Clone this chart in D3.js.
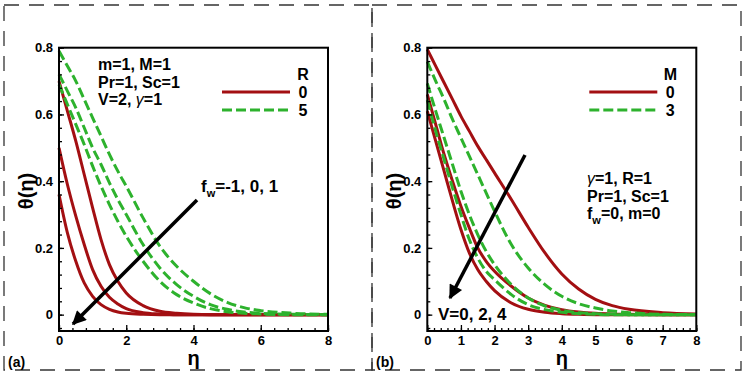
<!DOCTYPE html>
<html>
<head>
<meta charset="utf-8">
<script src="https://cdn.jsdelivr.net/npm/d3@7"></script>
<style>
  body { margin: 0; background: #fff; }
  svg { display: block; }
  text { font-family: "Liberation Sans", Arial, sans-serif; font-weight: bold; }
</style>
</head>
<body>
<svg id="chart" width="745" height="377"></svg>
<script>
// shared eta grid for every curve
const eta = [0, 0.25, 0.5, 0.75, 1, 1.25, 1.5, 1.75, 2, 2.5, 3, 3.5, 4, 4.5, 5, 5.5, 6, 7, 8];

// panel (a): f_w = -1, 0, 1 for R = 0 (red) and R = 5 (green)
const aRed = [
  [0.70, 0.61, 0.52, 0.42, 0.32, 0.225, 0.15, 0.10, 0.065, 0.027, 0.01, 0.004, 0.001, 0, 0, 0, 0, 0, 0],
  [0.50, 0.39, 0.295, 0.21, 0.135, 0.085, 0.052, 0.032, 0.018, 0.006, 0.002, 0, 0, 0, 0, 0, 0, 0, 0],
  [0.36, 0.245, 0.16, 0.095, 0.055, 0.03, 0.016, 0.008, 0.004, 0.001, 0, 0, 0, 0, 0, 0, 0, 0, 0]
];
const aGreen = [
  [0.79, 0.745, 0.70, 0.645, 0.59, 0.535, 0.48, 0.43, 0.385, 0.29, 0.205, 0.145, 0.10, 0.063, 0.037, 0.021, 0.012, 0.004, 0.001],
  [0.72, 0.67, 0.62, 0.56, 0.50, 0.45, 0.395, 0.345, 0.30, 0.21, 0.14, 0.09, 0.055, 0.03, 0.016, 0.008, 0.004, 0.001, 0],
  [0.69, 0.63, 0.57, 0.51, 0.445, 0.385, 0.33, 0.28, 0.235, 0.16, 0.10, 0.06, 0.035, 0.018, 0.009, 0.004, 0.002, 0, 0]
];

// panel (b): V = 0, 2, 4 for M = 0 (red) and M = 3 (green)
const bRed = [
  [0.795, 0.745, 0.695, 0.645, 0.595, 0.55, 0.505, 0.465, 0.425, 0.345, 0.262, 0.185, 0.122, 0.077, 0.046, 0.027, 0.016, 0.006, 0.002],
  [0.66, 0.57, 0.48, 0.40, 0.325, 0.26, 0.20, 0.16, 0.13, 0.085, 0.05, 0.028, 0.015, 0.008, 0.004, 0.002, 0.001, 0, 0],
  [0.61, 0.52, 0.43, 0.34, 0.255, 0.185, 0.135, 0.10, 0.072, 0.035, 0.016, 0.007, 0.003, 0.001, 0, 0, 0, 0, 0]
];
const bGreen = [
  [0.758, 0.70, 0.645, 0.585, 0.53, 0.475, 0.42, 0.365, 0.31, 0.21, 0.14, 0.09, 0.055, 0.033, 0.02, 0.011, 0.006, 0.001, 0],
  [0.693, 0.61, 0.53, 0.45, 0.37, 0.30, 0.24, 0.19, 0.15, 0.09, 0.05, 0.026, 0.013, 0.006, 0.003, 0.001, 0, 0, 0],
  [0.643, 0.55, 0.465, 0.38, 0.30, 0.225, 0.17, 0.13, 0.105, 0.06, 0.03, 0.015, 0.007, 0.003, 0.001, 0, 0, 0, 0]
];

const yTicks = [0, 0.2, 0.4, 0.6, 0.8];
const aXTicks = [0, 2, 4, 6, 8];
const bXTicks = [0, 1, 2, 3, 4, 5, 6, 7, 8];

const RED = "#a30f12", GREEN = "#2db22d";
const svg = d3.select("#chart");

const defs = svg.append("defs");
defs.append("marker")
  .attr("id", "head")
  .attr("viewBox", "0 0 10 10")
  .attr("refX", 9).attr("refY", 5)
  .attr("markerWidth", 5).attr("markerHeight", 4)
  .attr("markerUnits", "strokeWidth")
  .attr("orient", "auto")
  .append("path").attr("d", "M0,0 L10,5 L0,10 Z").attr("fill", "#000");

// dashed outer frames
[[4, 5, 368, 365], [372, 5, 369, 365]].forEach(([x, y, w, h]) => {
  svg.append("rect").attr("x", x).attr("y", y).attr("width", w).attr("height", h)
    .attr("fill", "none").attr("stroke", "#333").attr("stroke-width", 1.3)
    .attr("stroke-dasharray", "15,10");
});

function addParts(t, parts) {
  parts.forEach(part => {
    const ts = t.append("tspan").text(part.t);
    if (part.sub) ts.attr("font-size", 11).attr("dy", 5);
    if (part.after) ts.attr("dy", -5);
    if (part.g) ts.attr("font-weight", "normal").attr("font-style", "italic");
  });
}

function drawPanel(p) {
  const x = d3.scaleLinear().domain([0, 8]).range([p.left, p.left + 269]);
  const y = d3.scaleLinear().domain([-0.049, 0.8]).range([331, 47.7]);
  const g = svg.append("g");

  // curves
  const line = d3.line().x((d, i) => x(eta[i])).y(d => y(d)).curve(d3.curveMonotoneX);
  p.red.forEach(s => g.append("path").attr("d", line(s)).attr("fill", "none")
    .attr("stroke", RED).attr("stroke-width", 3));
  p.green.forEach(s => g.append("path").attr("d", line(s)).attr("fill", "none")
    .attr("stroke", GREEN).attr("stroke-width", 3).attr("stroke-dasharray", "10,4"));

  // axes with inward ticks
  const minorX = d3.range(0, 8.001, p.minorStep);
  const minorY = d3.range(-0.04, 0.801, 0.04);
  g.append("g").attr("transform", "translate(0,331)")
    .call(d3.axisBottom(x).tickValues(minorX).tickSize(-3).tickFormat(""))
    .call(a => a.select(".domain").remove());
  g.append("g").attr("transform", "translate(0,331)")
    .call(d3.axisBottom(x).tickValues(p.xTicks).tickSize(-6).tickPadding(5).tickFormat(d3.format("d")))
    .call(a => a.select(".domain").remove())
    .selectAll("text").attr("font-size", 13).attr("font-weight", "bold");
  g.append("g").attr("transform", `translate(${p.left},0)`)
    .call(d3.axisLeft(y).tickValues(minorY).tickSize(-3).tickFormat(""))
    .call(a => a.select(".domain").remove());
  g.append("g").attr("transform", `translate(${p.left},0)`)
    .call(d3.axisLeft(y).tickValues(yTicks).tickSize(-5).tickPadding(6).tickFormat(d => d === 0 ? "0" : d3.format(".1f")(d)))
    .call(a => a.select(".domain").remove())
    .selectAll("text").attr("font-size", 13).attr("font-weight", "bold");
  g.selectAll(".tick line").attr("stroke", "#000").attr("stroke-width", 1.3);

  g.append("rect").attr("x", x(0)).attr("y", 47.7).attr("width", x(8) - x(0)).attr("height", 331 - 47.7)
    .attr("fill", "none").attr("stroke", "#000").attr("stroke-width", 2);

  // axis titles
  g.append("text").attr("transform", `translate(${p.left - 26},191) rotate(-90)`)
    .attr("text-anchor", "middle").attr("font-size", 20).attr("font-weight", "normal").text("θ(η)");
  g.append("text").attr("x", (x(0) + x(8)) / 2).attr("y", 365)
    .attr("text-anchor", "middle").attr("font-size", 20).attr("font-weight", "normal").text("η");
  g.append("text").attr("x", p.tagX).attr("y", 367).attr("font-size", 14).text(p.tag);

  // legend
  const lx = p.left + p.legendX;
  g.append("text").attr("x", lx + 81).attr("y", 80).attr("text-anchor", "middle").attr("font-size", 16).text(p.legendTitle);
  p.legendLabels.forEach((lab, i) => {
    const ly = 92 + i * 18;
    g.append("line").attr("x1", lx).attr("x2", lx + 68).attr("y1", ly).attr("y2", ly)
      .attr("stroke", i === 0 ? RED : GREEN).attr("stroke-width", 3)
      .attr("stroke-dasharray", i === 0 ? null : "10,4");
    g.append("text").attr("x", lx + 81).attr("y", ly + 5.5).attr("text-anchor", "middle").attr("font-size", 16).text(lab);
  });

  // parameter block
  p.params.forEach((row, i) => {
    const t = g.append("text").attr("x", p.paramX).attr("y", p.paramY + i * p.paramGap).attr("font-size", 16);
    addParts(t, row);
  });

  // arrow and its label
  g.append("line").attr("x1", p.arrow[0]).attr("y1", p.arrow[1]).attr("x2", p.arrow[2]).attr("y2", p.arrow[3])
    .attr("stroke", "#000").attr("stroke-width", 3.5).attr("marker-end", "url(#head)");
  const t = g.append("text").attr("x", p.arrowLabel[0]).attr("y", p.arrowLabel[1]).attr("font-size", 17);
  addParts(t, p.arrowText);
}

drawPanel({
  left: 59, red: aRed, green: aGreen, xTicks: aXTicks, minorStep: 0.4,
  tag: "(a)", tagX: 8,
  legendX: 163, legendTitle: "R", legendLabels: ["0", "5"],
  paramX: 98, paramY: 70, paramGap: 17.5,
  params: [[{ t: "m=1, M=1" }], [{ t: "Pr=1, Sc=1" }], [{ t: "V=2, " }, { t: "γ", g: true }, { t: "=1" }]],
  arrow: [197, 200, 73, 324],
  arrowLabel: [201, 192],
  arrowText: [{ t: "f" }, { t: "w", sub: true }, { t: "=-1, 0, 1", after: true }]
});

drawPanel({
  left: 427.3, red: bRed, green: bGreen, xTicks: bXTicks, minorStep: 0.2,
  tag: "(b)", tagX: 376,
  legendX: 162, legendTitle: "M", legendLabels: ["0", "3"],
  paramX: 587, paramY: 184, paramGap: 17.5,
  params: [[{ t: "γ", g: true }, { t: "=1, R=1" }], [{ t: "Pr=1, Sc=1" }], [{ t: "f" }, { t: "w", sub: true }, { t: "=0, m=0", after: true }]],
  arrow: [525, 155, 450, 298],
  arrowLabel: [438, 320],
  arrowText: [{ t: "V=0, 2, 4" }]
});
</script>
</body>
</html>
